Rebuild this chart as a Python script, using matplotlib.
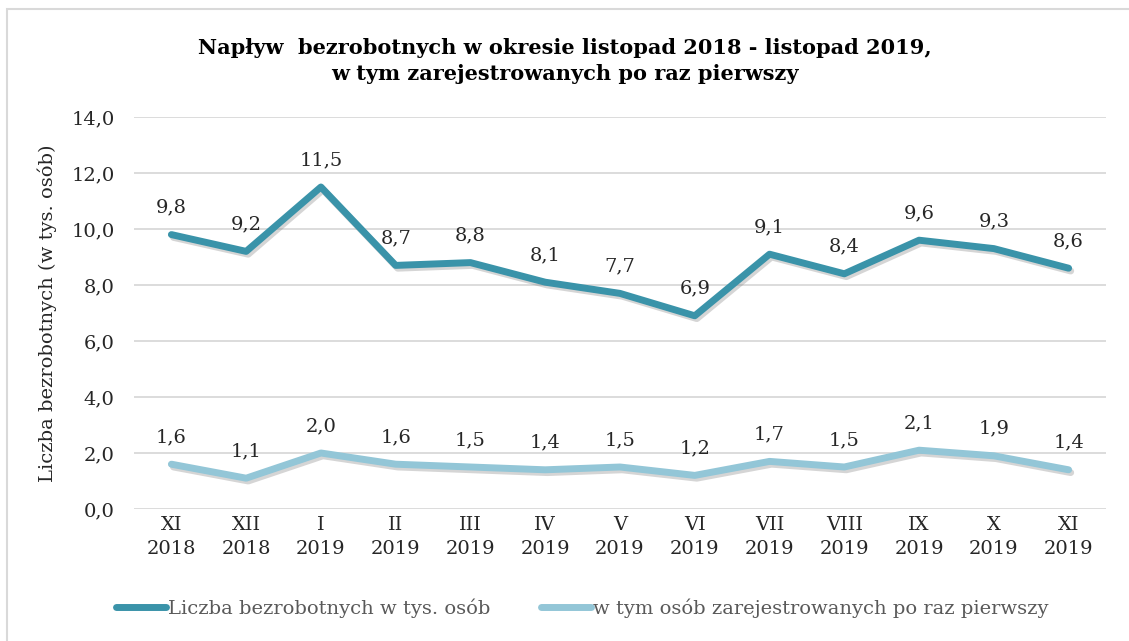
import matplotlib.pyplot as plt
import matplotlib.patheffects as pe
from matplotlib.patches import Rectangle
from matplotlib.lines import Line2D

# Data
months = ["XI\n2018", "XII\n2018", "I\n2019", "II\n2019", "III\n2019", "IV\n2019", "V\n2019",
          "VI\n2019", "VII\n2019", "VIII\n2019", "IX\n2019", "X\n2019", "XI\n2019"]
total = [9.8, 9.2, 11.5, 8.7, 8.8, 8.1, 7.7, 6.9, 9.1, 8.4, 9.6, 9.3, 8.6]
first_time = [1.6, 1.1, 2.0, 1.6, 1.5, 1.4, 1.5, 1.2, 1.7, 1.5, 2.1, 1.9, 1.4]
series_names = ["Liczba bezrobotnych w tys. osób", "w tym osób zarejestrowanych po raz pierwszy"]

dark = "#3A93A9"
light = "#93C6D7"
font = "DejaVu Serif"

fig = plt.figure(figsize=(11.29, 6.41), dpi=100)
fig.patch.set_facecolor("white")
fig.patches.append(Rectangle((7 / 1129, -0.01), 1.02, 1 - 9 / 641 + 0.01, transform=fig.transFigure,
                             fill=False, edgecolor="#D9D9D9", linewidth=1.5))

ax = fig.add_axes([134 / 1129, 1 - 509 / 641, 972 / 1129, 392 / 641])
x = range(len(months))
shadow = [pe.SimpleLineShadow(offset=(1.5, -2), shadow_color="#888888", alpha=0.35), pe.Normal()]
ax.plot(x, total, color=dark, lw=5, solid_capstyle="round", path_effects=shadow, zorder=3)
ax.plot(x, first_time, color=light, lw=5, solid_capstyle="round", path_effects=shadow, zorder=3)

for series in (total, first_time):
    for i, v in enumerate(series):
        ax.annotate(f"{v:.1f}".replace(".", ","), (i, v), xytext=(0, 13), textcoords="offset points",
                    ha="center", va="bottom", fontsize=14, family=font, color="#262626")

ax.set_xlim(-0.5, len(months) - 0.5)
ax.set_ylim(0, 14)
ax.set_yticks([0, 2, 4, 6, 8, 10, 12, 14])
ax.set_yticklabels([f"{t:.1f}".replace(".", ",") for t in ax.get_yticks()], family=font, fontsize=14,
                   color="#262626")
ax.set_xticks(list(x))
ax.set_xticklabels(months, family=font, fontsize=14, color="#262626", linespacing=1.4)
ax.tick_params(length=0, pad=5)
ax.tick_params(axis="y", pad=14)
ax.grid(axis="y", color="#D9D9D9", lw=1.3)
ax.set_axisbelow(True)
for s in ax.spines.values():
    s.set_visible(False)

ax.set_ylabel("Liczba bezrobotnych (w tys. osób)", family=font, fontsize=14, color="#262626", labelpad=10)

fig.text(0.5, 1 - 61 / 641, "Napływ  bezrobotnych w okresie listopad 2018 - listopad 2019,\nw tym zarejestrowanych po raz pierwszy",
         ha="center", va="center", fontsize=15, fontweight="bold", family=font, linespacing=1.35)

# two separate legend entries, placed like the original
for name, color, left in [(series_names[0], dark, 112), (series_names[1], light, 537)]:
    leg = fig.legend([Line2D([], [], color=color, lw=5, solid_capstyle="round")], [name],
                     loc="center left", bbox_to_anchor=(left / 1129, 1 - 608 / 641), frameon=False,
                     prop={"family": font, "size": 14}, handlelength=2.6, handletextpad=0.1,
                     borderaxespad=0, borderpad=0.2)
    leg.get_texts()[0].set_color("#595959")

fig.savefig("out.png", dpi=100)
